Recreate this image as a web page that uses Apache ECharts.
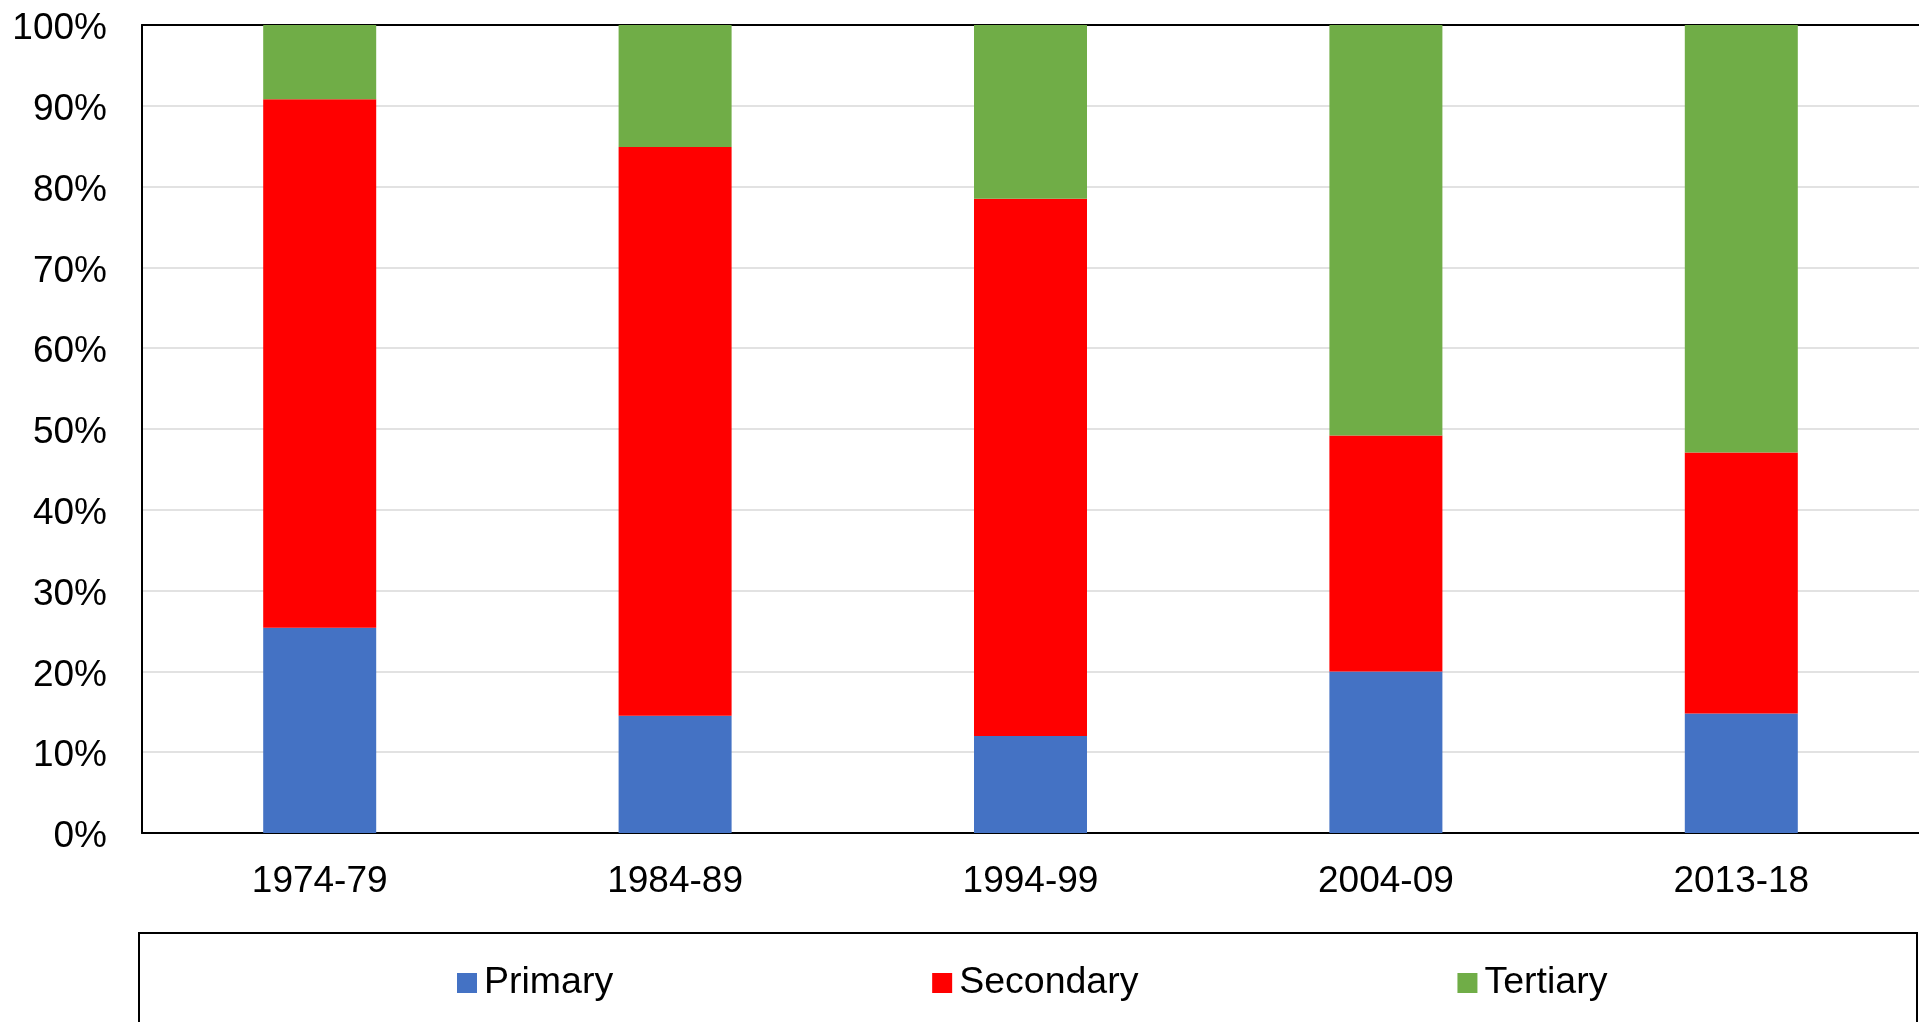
<!DOCTYPE html>
<html>
<head>
<meta charset="utf-8">
<script src="https://cdn.jsdelivr.net/npm/echarts@6/dist/echarts.min.js"></script>
<style>
html,body{margin:0;padding:0;background:#fff;}
#chart{width:1919px;height:1022px;}
</style>
</head>
<body>
<div id="chart"></div>
<script>
const categories = ['1974-79', '1984-89', '1994-99', '2004-09', '2013-18'];
const primary = [25.4, 14.5, 12.0, 20.0, 14.8];
const secondary = [65.4, 70.4, 66.5, 29.2, 32.3];
const tertiary = [9.2, 15.1, 21.5, 50.8, 52.9];
const seriesNames = ['Primary', 'Secondary', 'Tertiary'];
const colors = ['#4472C4', '#FF0000', '#70AD47'];

const FONT = '"Liberation Sans", Arial, sans-serif';
const chart = echarts.init(document.getElementById('chart'), null, {renderer: 'canvas'});
const seriesData = [primary, secondary, tertiary];

chart.setOption({
  animation: false,
  backgroundColor: '#ffffff',
  textStyle: {fontFamily: FONT},
  grid: {left: 142, top: 25, right: 0, bottom: 189, containLabel: false},
  legend: {
    data: seriesNames,
    left: 457,
    top: 964,
    padding: 0,
    itemGap: 319,
    itemWidth: 20,
    itemHeight: 20,
    icon: 'rect',
    textStyle: {fontSize: 37.5, color: '#000', fontFamily: FONT, padding: [0, 0, 0, 2]}
  },
  graphic: [{
    type: 'rect',
    shape: {x: 139, y: 933, width: 1778, height: 200},
    style: {fill: 'none', stroke: '#000', lineWidth: 2},
    silent: true,
    z: -1
  }],
  xAxis: [{
    type: 'category',
    data: categories,
    position: 'bottom',
    axisLine: {show: true, lineStyle: {color: '#000', width: 2}},
    axisTick: {show: false},
    axisLabel: {fontSize: 37, color: '#000', margin: 30, fontFamily: FONT},
    splitLine: {show: false}
  }, {
    type: 'category',
    data: categories,
    position: 'top',
    axisLine: {show: true, lineStyle: {color: '#000', width: 2}},
    axisTick: {show: false},
    axisLabel: {show: false},
    splitLine: {show: false}
  }],
  yAxis: {
    type: 'value',
    min: 0,
    max: 100,
    interval: 10,
    axisLine: {show: true, lineStyle: {color: '#000', width: 2}},
    axisTick: {show: false},
    axisLabel: {
      color: '#000', margin: 35, fontFamily: FONT,
      formatter: v => '{a|' + v + '%}',
      rich: {a: {fontSize: 37, color: '#000', fontFamily: FONT, padding: [8, 0, 0, 0]}}
    },
    splitLine: {show: true, lineStyle: {color: '#d9d9d9', width: 1.5}}
  },
  series: seriesNames.map((name, i) => ({
    name: name,
    type: 'bar',
    stack: 'total',
    barWidth: 113,
    data: seriesData[i],
    itemStyle: {color: colors[i]},
    emphasis: {disabled: true}
  }))
});
</script>
</body>
</html>
